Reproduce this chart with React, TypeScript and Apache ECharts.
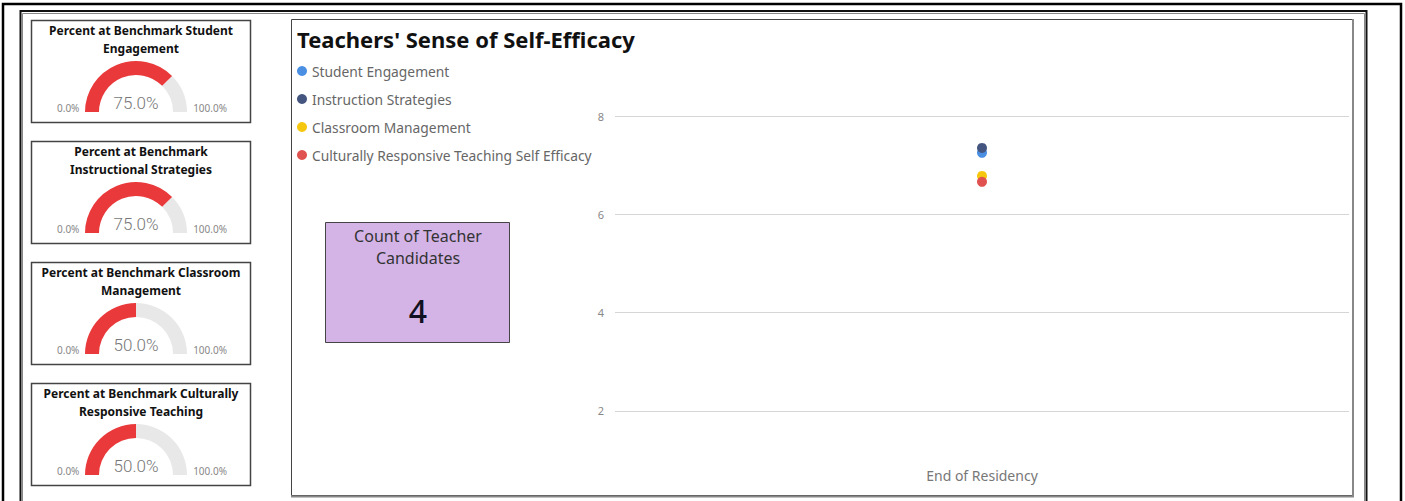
import React, { useEffect, useRef } from 'react';
import * as echarts from 'echarts';

// ---- data ----
const gaugeTitles: string[][] = [
  ['Percent at Benchmark Student', 'Engagement'],
  ['Percent at Benchmark', 'Instructional Strategies'],
  ['Percent at Benchmark Classroom', 'Management'],
  ['Percent at Benchmark Culturally', 'Responsive Teaching'],
];
const gaugeValues = [75, 75, 50, 50];
const gaugeMin = 0;
const gaugeMax = 100;

const chartTitle = "Teachers' Sense of Self-Efficacy";
const categories = ['End of Residency'];
const seriesNames = [
  'Student Engagement',
  'Instruction Strategies',
  'Classroom Management',
  'Culturally Responsive Teaching Self Efficacy',
];
const seriesValues = [[7.25], [7.35], [6.78], [6.66]];
const seriesColors = ['#4A8FE2', '#44557F', '#F5C80F', '#E0524F'];
const yMin = 1;
const yMax = 8;
const yLabelStep = 2;

const cardTitle = ['Count of Teacher', 'Candidates'];
const cardValue = 4;

const FONT = '"Noto Sans", "Open Sans", sans-serif';
const LIGHT = 'Roboto, "Noto Sans", sans-serif';

export default function App() {
  const ref = useRef<HTMLDivElement>(null);
  useEffect(() => {
    if (!ref.current) return;
    const chart = echarts.init(ref.current, undefined, { renderer: 'svg' });

    const graphics: any[] = [];
    // outer frames
    graphics.push({ type: 'rect', shape: { x: 3, y: 4, width: 1398, height: 520 }, style: { fill: 'none', stroke: '#000', lineWidth: 2.5 }, silent: true, z: -10 });
    graphics.push({ type: 'rect', shape: { x: 20.5, y: 11, width: 1346, height: 520 }, style: { fill: 'none', stroke: '#111', lineWidth: 2 }, silent: true, z: -10 });
    graphics.push({ type: 'rect', shape: { x: 22.5, y: 13.5, width: 1342, height: 520 }, style: { fill: 'none', stroke: '#888', lineWidth: 1 }, silent: true, z: -10 });
    // main panel
    graphics.push({ type: 'rect', shape: { x: 291.5, y: 19.5, width: 1061, height: 476 }, style: { fill: 'none', stroke: '#444', lineWidth: 1 }, silent: true, z: -10 });
    graphics.push({ type: 'polyline', shape: { points: [[1353, 19], [1353, 496.5], [291, 496.5]] }, style: { fill: 'none', stroke: '#888', lineWidth: 2 }, silent: true, z: -10 });

    // gauge cards
    gaugeTitles.forEach((lines, i) => {
      const top = 20 + 121 * i;
      graphics.push({ type: 'rect', shape: { x: 31.5, y: top + 0.5, width: 219, height: 102 }, style: { fill: '#fff', stroke: '#444', lineWidth: 1.5 }, silent: true, z: -5 });
      lines.forEach((t, j) => {
        graphics.push({
          type: 'text', x: 141, y: top + 10 + 18 * j, silent: true, z: 5,
          style: { text: t, font: `bold 12px ${FONT}`, fill: '#111', align: 'center', verticalAlign: 'middle' },
        });
      });
    });

    // count card
    graphics.push({ type: 'rect', shape: { x: 325.5, y: 222.5, width: 184, height: 120 }, style: { fill: '#D4B4E7', stroke: '#444', lineWidth: 1 }, silent: true, z: 1 });
    cardTitle.forEach((t, j) => {
      graphics.push({ type: 'text', x: 418, y: 236 + 22 * j, silent: true, z: 2, style: { text: t, font: `16px ${FONT}`, fill: '#333', align: 'center', verticalAlign: 'middle' } });
    });
    graphics.push({ type: 'text', x: 418, y: 310, silent: true, z: 2, style: { text: String(cardValue), font: `500 32px ${FONT}`, fill: '#111122', align: 'center', verticalAlign: 'middle' } });

    // main title
    graphics.push({ type: 'text', x: 297, y: 39, silent: true, z: 2, style: { text: chartTitle, font: `bold 22px ${FONT}`, fill: '#111', align: 'left', verticalAlign: 'middle' } });

    const gaugeSeries = gaugeValues.map((v, i) => ({
      type: 'gauge',
      center: [136, 112 + 121 * i],
      radius: 51,
      startAngle: 180,
      endAngle: 0,
      min: gaugeMin,
      max: gaugeMax,
      splitNumber: 1,
      pointer: { show: false },
      progress: { show: false },
      axisLine: { lineStyle: { width: 14, color: [[v / gaugeMax, '#E9393B'], [1, '#E8E8E8']] } },
      axisTick: { show: false },
      splitLine: { show: false, length: 0, distance: 0 },
      axisLabel: {
        show: true,
        distance: -40,
        fontSize: 10,
        color: '#888',
        fontFamily: FONT,
        formatter: (val: number) => (val === gaugeMin ? '{a|' : '{b|') + val.toFixed(1) + '%}',
        rich: {
          a: { fontSize: 10, color: '#888', fontFamily: FONT, padding: [0, 0, 8, 12] },
          b: { fontSize: 10, color: '#888', fontFamily: FONT, padding: [0, 0, 8, 0] },
        },
      },
      title: { show: false },
      detail: {
        show: true,
        offsetCenter: [0, -9],
        fontSize: 17,
        fontWeight: 300,
        color: '#777',
        fontFamily: LIGHT,
        formatter: (val: number) => val.toFixed(1) + '%',
      },
      data: [{ value: v }],
    }));

    const scatterSeries = seriesNames.map((name, i) => ({
      type: 'scatter',
      name,
      symbol: 'circle',
      symbolSize: 10,
      itemStyle: { color: seriesColors[i], opacity: 1 },
      data: seriesValues[i],
    }));

    chart.setOption({
      animation: false,
      textStyle: { fontFamily: FONT },
      legend: {
        orient: 'vertical',
        left: 297,
        top: 64,
        padding: 0,
        itemWidth: 10,
        itemHeight: 10,
        itemGap: 14,
        icon: 'circle',
        data: seriesNames,
        textStyle: { fontSize: 13.8, color: '#666', fontFamily: FONT },
      },
      grid: { left: 615, right: 56, top: 116, bottom: 41, containLabel: false },
      xAxis: {
        type: 'category',
        data: categories,
        axisLine: { show: false },
        axisTick: { show: false },
        axisLabel: { color: '#777', fontSize: 14, margin: 8, fontFamily: FONT },
        splitLine: { show: false },
      },
      yAxis: {
        type: 'value',
        min: yMin,
        max: yMax,
        interval: 1,
        axisLine: { show: false },
        axisTick: { show: false },
        axisLabel: {
          color: '#888', fontSize: 11, margin: 11, fontFamily: FONT,
          formatter: (v: number) => (v % yLabelStep === 0 ? String(v) : ''),
        },
        splitLine: { show: true, lineStyle: { color: ['rgba(0,0,0,0)', '#D6D6D6'], width: 1 } },
      },
      graphic: graphics,
      series: [...gaugeSeries, ...scatterSeries],
    });
    return () => chart.dispose();
  }, []);
  return <div ref={ref} style={{ position: 'absolute', left: 0, top: 0, width: 1405, height: 501, background: '#fff' }} />;
}
